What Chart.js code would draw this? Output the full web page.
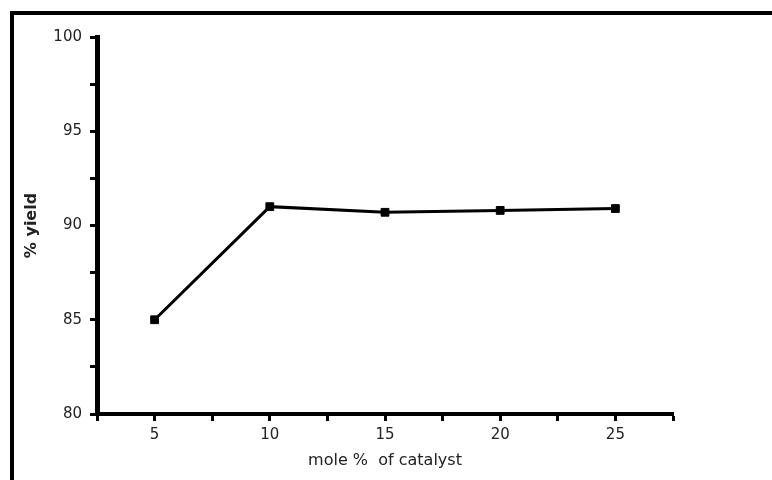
<!DOCTYPE html>
<html lang="en">
<head>
  <meta charset="UTF-8" />
  <title>% yield vs mole % of catalyst</title>
  <script src="https://cdn.jsdelivr.net/npm/chart.js"></script>
  <style>
    body { margin: 0; background: #fff; width: 772px; height: 480px; overflow: hidden; position: relative; }
    #frame { position: absolute; left: 10px; top: 11px; width: 800px; height: 500px; border-left: 4px solid #000; border-top: 4px solid #000; }
    #chart { position: absolute; left: 0; top: 0; }
  </style>
</head>
<body>
  <div id="frame"></div>
  <canvas id="chart" width="772" height="480"></canvas>

  <script>
    // mole % of catalyst vs % yield
    const catalyst = [5, 10, 15, 20, 25];
    const yieldPct = [85.0, 91.0, 90.7, 90.8, 90.9];
    const xTicks = [5, 10, 15, 20, 25];
    const yTicks = [80, 85, 90, 95, 100];

    const font = { family: 'DejaVu Sans', size: 15 };

    new Chart(document.getElementById('chart'), {
      type: 'line',
      data: {
        datasets: [{
          data: catalyst.map((x, i) => ({ x: x, y: yieldPct[i] })),
          borderColor: '#000',
          backgroundColor: '#000',
          borderWidth: 3,
          pointStyle: 'rect',
          pointRadius: 5.5,
          pointBorderWidth: 1,
          tension: 0
        }]
      },
      options: {
        responsive: false,
        animation: false,
        layout: { padding: { top: 37, right: 99, left: 0, bottom: 0 } },
        plugins: { legend: { display: false }, tooltip: { enabled: false } },
        scales: {
          x: {
            type: 'linear',
            min: 2.5,
            max: 27.5,
            afterFit: s => { s.height = 66; },
            border: { display: true, color: '#000', width: 4 },
            grid: { drawOnChartArea: false, drawTicks: true, tickLength: 7, tickWidth: 3, tickColor: '#000' },
            ticks: {
              stepSize: 2.5,
              padding: 5,
              color: '#222',
              font: font,
              maxRotation: 0,
              callback: v => xTicks.includes(v) ? String(v) : ''
            },
            title: { display: true, text: 'mole %  of catalyst', color: '#222', font: { family: 'DejaVu Sans', size: 16 }, padding: { top: 0, bottom: 10 } }
          },
          y: {
            min: 80,
            max: 100,
            afterFit: s => { s.width = 97; },
            border: { display: true, color: '#000', width: 5 },
            grid: { drawOnChartArea: false, drawTicks: true, tickLength: 7, tickWidth: 3, tickColor: '#000' },
            ticks: {
              stepSize: 2.5,
              padding: 8,
              color: '#222',
              font: font,
              callback: v => yTicks.includes(v) ? String(v) : ''
            },
            title: { display: true, text: '% yield', color: '#222', font: { family: 'DejaVu Sans', size: 16, weight: 'bold' }, padding: { top: 22, bottom: 0 } }
          }
        }
      }
    });
  </script>
</body>
</html>
